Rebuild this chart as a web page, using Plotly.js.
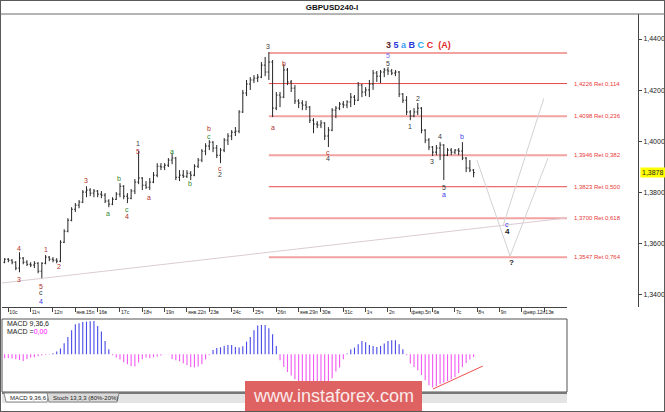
<!DOCTYPE html>
<html><head><meta charset="utf-8">
<script src="https://cdn.plot.ly/plotly-3.0.1.min.js"></script>
<style>html,body{margin:0;padding:0;background:#fff;}#chart{width:665px;height:412px;}</style>
</head><body><div id="chart"></div>
<script>
// ---------- DATA ----------
const dayLabels = ["10с","11ч","12п","янв.15п","16в","17с","18ч","19п","янв.22п","23в","24с","25ч","26п","янв.29п","30в","31с","1ч","2п","февр.5п","6в","7с","8ч","9п","февр.12п","13в"];
const barsPerDay = 6;
const firstDayBar = 1;

const open = [1.3528,1.3540,1.3536,1.3528,1.3505,1.3544,1.3528,1.3520,1.3517,1.3524,
1.3493,1.3524,1.3548,1.3540,1.3536,1.3532,1.3606,1.3649,1.3692,1.3735,
1.3751,1.3763,1.3802,1.3810,1.3798,1.3806,1.3794,1.3790,1.3767,1.3755,
1.3774,1.3794,1.3825,1.3786,1.3778,1.3806,1.3841,1.3857,1.3829,1.3821,
1.3841,1.3868,1.3903,1.3900,1.3907,1.3927,1.3935,1.3860,1.3868,1.3864,
1.3876,1.3868,1.3903,1.3927,1.3962,1.3982,1.3997,1.3974,1.3946,1.3966,
1.4005,1.4021,1.4036,1.4040,1.4115,1.4189,1.4224,1.4240,1.4247,1.4251,
1.4298,1.4271,1.4310,1.4130,1.4181,1.4173,1.4279,1.4232,1.4208,1.4158,
1.4150,1.4142,1.4134,1.4083,1.4068,1.4064,1.4072,1.4021,1.4044,1.4122,
1.4130,1.4146,1.4142,1.4154,1.4173,1.4161,1.4220,1.4193,1.4201,1.4224,
1.4267,1.4255,1.4271,1.4279,1.4275,1.4267,1.4271,1.4185,1.4161,1.4115,
1.4099,1.4115,1.4130,1.4044,1.4005,1.3978,1.3958,1.3974,1.3986,1.3946,
1.3966,1.3958,1.3966,1.3962,1.3935,1.3896,1.3888];
const high = [1.3544,1.3544,1.3540,1.3532,1.3567,1.3548,1.3536,1.3528,1.3532,1.3528,
1.3528,1.3556,1.3552,1.3548,1.3544,1.3614,1.3657,1.3700,1.3743,1.3759,
1.3771,1.3810,1.3825,1.3817,1.3814,1.3810,1.3806,1.3798,1.3774,1.3782,
1.3802,1.3837,1.3829,1.3798,1.3814,1.3853,1.3962,1.3860,1.3845,1.3857,
1.3880,1.3915,1.3915,1.3915,1.3935,1.3954,1.3939,1.3888,1.3888,1.3888,
1.3884,1.3911,1.3935,1.3970,1.3993,1.4005,1.4001,1.3986,1.3974,1.4013,
1.4032,1.4044,1.4056,1.4122,1.4201,1.4240,1.4251,1.4259,1.4263,1.4310,
1.4330,1.4349,1.4318,1.4193,1.4193,1.4302,1.4287,1.4240,1.4220,1.4165,
1.4161,1.4158,1.4138,1.4091,1.4079,1.4083,1.4075,1.4056,1.4130,1.4138,
1.4154,1.4158,1.4161,1.4189,1.4181,1.4232,1.4224,1.4212,1.4240,1.4279,
1.4275,1.4279,1.4287,1.4290,1.4283,1.4279,1.4275,1.4189,1.4177,1.4122,
1.4130,1.4150,1.4134,1.4048,1.4013,1.3982,1.3986,1.3997,1.3989,1.3974,
1.3974,1.3970,1.3974,1.3997,1.3939,1.3927,1.3892];
const low = [1.3524,1.3528,1.3520,1.3497,1.3489,1.3520,1.3513,1.3509,1.3505,1.3485,
1.3462,1.3520,1.3532,1.3528,1.3524,1.3528,1.3603,1.3645,1.3688,1.3724,
1.3739,1.3759,1.3782,1.3786,1.3782,1.3782,1.3778,1.3759,1.3743,1.3751,
1.3771,1.3782,1.3774,1.3759,1.3774,1.3794,1.3833,1.3810,1.3814,1.3810,
1.3837,1.3860,1.3888,1.3888,1.3900,1.3911,1.3849,1.3845,1.3857,1.3857,
1.3849,1.3864,1.3896,1.3919,1.3946,1.3966,1.3958,1.3935,1.3915,1.3958,
1.3986,1.4005,1.4021,1.4032,1.4111,1.4177,1.4201,1.4228,1.4232,1.4247,
1.4255,1.4240,1.4095,1.4122,1.4134,1.4169,1.4220,1.4193,1.4146,1.4130,
1.4122,1.4122,1.4072,1.4032,1.4052,1.4052,1.4005,1.3978,1.4040,1.4091,
1.4122,1.4130,1.4130,1.4134,1.4142,1.4158,1.4173,1.4177,1.4173,1.4201,
1.4232,1.4228,1.4251,1.4259,1.4259,1.4255,1.4173,1.4150,1.4103,1.4083,
1.4095,1.4103,1.4032,1.3993,1.3966,1.3943,1.3946,1.3927,1.3849,1.3943,
1.3946,1.3950,1.3946,1.3927,1.3880,1.3880,1.3860];
const close = [1.3540,1.3536,1.3528,1.3505,1.3544,1.3528,1.3520,1.3517,1.3524,1.3493,
1.3524,1.3548,1.3540,1.3536,1.3532,1.3606,1.3649,1.3692,1.3735,1.3751,
1.3763,1.3802,1.3810,1.3798,1.3806,1.3794,1.3790,1.3767,1.3755,1.3774,
1.3794,1.3825,1.3786,1.3778,1.3806,1.3841,1.3857,1.3829,1.3821,1.3841,
1.3868,1.3903,1.3900,1.3907,1.3927,1.3935,1.3860,1.3868,1.3864,1.3876,
1.3868,1.3903,1.3927,1.3962,1.3982,1.3997,1.3974,1.3946,1.3966,1.4005,
1.4021,1.4036,1.4040,1.4115,1.4189,1.4224,1.4240,1.4247,1.4251,1.4298,
1.4271,1.4310,1.4130,1.4181,1.4173,1.4279,1.4232,1.4208,1.4158,1.4150,
1.4142,1.4134,1.4083,1.4068,1.4064,1.4072,1.4021,1.4044,1.4122,1.4130,
1.4146,1.4142,1.4154,1.4173,1.4161,1.4220,1.4193,1.4201,1.4224,1.4267,
1.4255,1.4271,1.4279,1.4275,1.4267,1.4271,1.4185,1.4161,1.4115,1.4099,
1.4115,1.4130,1.4044,1.4005,1.3978,1.3958,1.3974,1.3986,1.3946,1.3966,
1.3958,1.3966,1.3962,1.3935,1.3896,1.3888,1.3878];

// MACD(9,36,6) histogram, in pips (0.0001)
const macdHist = [-4,-3.7,-4.3,-5,-5.7,-6.7,-4.7,-3.3,-3,-2,
-1.3,-0.7,0.3,1,2.7,5.7,11,17.3,24,30,
31,32.3,32.7,33,33.3,28.3,22.7,13.3,5,-1,
-3.3,-5.3,-8,-10,-11.7,-12.3,-8.3,-5,-3.3,-4,
-3,-2.3,-1.3,-0.3,-0.3,-4.7,-6,-7,-9,-11,
-12.7,-13.3,-12.3,-10,-5.3,-1,4.3,6.3,7,8.3,
9.3,9.3,7.3,6.7,8,12.7,17.3,24,28.7,29.3,
29.3,26,20,8.3,-6,-12.7,-17.7,-21.3,-25,-28.3,
-30.7,-33.3,-35,-36,-36.7,-36,-35,-33.3,-24,-17.3,
-13.3,-5,0.7,4.7,6.7,10,13.3,12,9.3,8.3,
7.3,8.3,10.7,13.3,14,14,10,5,-1,-9.3,
-12.7,-16,-20.7,-26,-31,-33.3,-32,-30,-28.3,-26.7,
-25,-22.7,-19,-12.7,-8.7,-5.3,-2.7];
const macdName = "MACD 9,36,6";
const macdValueText = "0,00";

const fibLevels = [1.4345, 1.4226, 1.4098, 1.3946, 1.3823, 1.3700, 1.3547];
const fibRatios = [null, 0.114, 0.236, 0.382, 0.500, 0.618, 0.764];
const fibFromBar = 71;
const lastPrice = 1.3878;
const priceTicks = [1.34, 1.36, 1.38, 1.40, 1.42, 1.44];

const trendBars = [-0.7, 151.1];
const trendPrices = [1.3447, 1.3701];
const projBarsA = [126.9, 135.8, 146.0];
const projPricesA = [1.3927, 1.3552, 1.3935];
const projBarsB = [133.9, 144.9];
const projPricesB = [1.3669, 1.4169];
const macdTrendBars = [115.1, 128.5];
const macdTrendVals = [-34.7, -11.7];

// wave labels: text, bar, price, degree
const waveText  = ["4","3","1","2","5","c","4","3","a","b","c","4","1","5","a","a","b","c","2","b","c","3","a","b","c","4","5","5","1","2","3","4","5","a","b","c","4","?"];
const waveBar   = [3.9,3.9,11.0,14.6,9.8,9.8,9.8,21.9,27.8,30.7,32.9,32.9,35.8,35.8,38.8,45.0,49.8,57.9,57.9,54.9,54.9,70.8,72.1,75.1,86.9,86.9,103.0,103.0,108.9,111.1,114.8,117.0,118.1,118.1,122.9,135.0,135.0,136.3];
const wavePrice = [1.3583,1.3462,1.3579,1.3513,1.3435,1.3411,1.3376,1.3849,1.3720,1.3857,1.3735,1.3708,1.3993,1.3962,1.3782,1.3962,1.3837,1.3896,1.3872,1.4052,1.4021,1.4369,1.4056,1.4306,1.3958,1.3935,1.4337,1.4306,1.4060,1.4169,1.3923,1.4021,1.3821,1.3794,1.4021,1.3677,1.3649,1.3528];
const waveDeg   = ["r","r","r","r","r","k","b","r","g","g","g","r","k","r","r","g","g","r","k","r","g","k","r","r","r","k","p","k","k","k","k","k","k","b","b","b","K","K"];

const countLegend = [["3","#5a2c2c"],["5","#2a36d8"],["a","#3a9cf6"],["B","#2a36d8"],["C","#27a8ec"],["C","#e02a2a"],[" (A)","#e02a2a"]];
const titleText = "GBPUSD240-I";
const watermark = "www.instaforex.com";
const tabs = ["MACD 9,36,6", "Stoch 13,3,3 (80%-20%)"];

// ---------- LAYOUT HELPERS ----------
const W = 665, H = 412;
const PX = v => v / W, PY = v => 1 - v / H;
const FONT = "Liberation Sans, Arial, sans-serif";
const degColor = {r:"#b0302c", k:"#3a3a3a", g:"#2f8a2f", b:"#3a3af0", p:"#7070f0", K:"#222222"};
const bars = open.map((_, i) => i);
const dayTicks = dayLabels.map((_, i) => firstDayBar + barsPerDay * i);
const fmt = (v, d) => v.toFixed(d).replace('.', ',');

const traces = [
  {type:'ohlc', x:bars, open, high, low, close, xaxis:'x', yaxis:'y',
   increasing:{line:{color:'#262626', width:1}}, decreasing:{line:{color:'#262626', width:1}},
   tickwidth:0.33, hoverinfo:'skip'},
  {type:'scatter', mode:'lines', x:trendBars, y:trendPrices, line:{color:'#dccbd4', width:1}, hoverinfo:'skip'},
  {type:'scatter', mode:'lines', x:projBarsA, y:projPricesA, line:{color:'#d4d0d2', width:1}, hoverinfo:'skip'},
  {type:'scatter', mode:'lines', x:projBarsB, y:projPricesB, line:{color:'#d4d0d2', width:1}, hoverinfo:'skip'},
  {type:'bar', x:bars, y:macdHist, xaxis:'x2', yaxis:'y2', width:0.3,
   marker:{color:macdHist.map(v => v >= 0 ? '#4b4be8' : '#f25af2'), line:{width:0}}, hoverinfo:'skip'},
  {type:'scatter', mode:'lines', x:macdTrendBars, y:macdTrendVals, xaxis:'x2', yaxis:'y2', line:{color:'#f05050', width:1}, hoverinfo:'skip'}
];

const shapes = [];
fibLevels.forEach((lv, i) => {
  const thin = (i === 1 || i === 4);
  shapes.push({type:'line', xref:'x', yref:'y', x0:fibFromBar, x1:151.6, y0:lv, y1:lv,
    line:{color: thin ? '#e84848' : '#f3a2a2', width: thin ? 1 : 2}, layer:'below'});
});
// frames
shapes.push({type:'rect', xref:'paper', yref:'paper', x0:0, x1:1, y0:0, y1:1, line:{color:'#5a5a5a', width:2}});
shapes.push({type:'line', xref:'paper', yref:'paper', x0:0, x1:1, y0:PY(14), y1:PY(14), line:{color:'#6a6a6a', width:1}});
shapes.push({type:'rect', xref:'paper', yref:'paper', x0:PX(2), x1:PX(567), y0:PY(392), y1:PY(319), line:{color:'#555', width:1}});
shapes.push({type:'rect', xref:'paper', yref:'paper', x0:PX(2), x1:PX(567), y0:PY(403), y1:PY(393), fillcolor:'#e4e4e4', line:{width:0}});
shapes.push({type:'line', xref:'paper', yref:'paper', x0:PX(2), x1:PX(567), y0:PY(393), y1:PY(393), line:{color:'#777', width:2}});
const tabPath = (a, b) => `M ${PX(a)} ${PY(393)} L ${PX(a+2)} ${PY(402)} L ${PX(b-2)} ${PY(402)} L ${PX(b)} ${PY(393)} Z`;
shapes.push({type:'path', xref:'paper', yref:'paper', path:tabPath(4, 49), fillcolor:'#ffffff', line:{color:'#888', width:1}});
shapes.push({type:'path', xref:'paper', yref:'paper', path:tabPath(47, 119), fillcolor:'#dadada', line:{color:'#888', width:1}});
shapes.push({type:'rect', xref:'paper', yref:'paper', x0:PX(245), x1:PX(422), y0:PY(411), y1:PY(381), fillcolor:'#de6262', line:{width:0}, layer:'above'});

const annotations = [];
fibLevels.forEach((lv, i) => {
  if (fibRatios[i] === null) return;
  annotations.push({xref:'paper', yref:'y', x:PX(572), y:lv, xanchor:'left', yanchor:'middle', showarrow:false,
    text:`${fmt(lv,4)} Ret ${fmt(fibRatios[i],3)}`, font:{family:FONT, size:6, color:'#e83838'}});
});
waveText.forEach((t, i) => {
  const bold = waveDeg[i] === 'K';
  annotations.push({xref:'x', yref:'y', x:waveBar[i], y:wavePrice[i], showarrow:false, xanchor:'center', yanchor:'middle',
    text: bold ? `<b>${t}</b>` : t, font:{family:FONT, size: bold ? 8 : 7, color:degColor[waveDeg[i]]}});
});
annotations.push({xref:'paper', yref:'paper', x:PX(384), y:PY(45), xanchor:'left', yanchor:'middle', showarrow:false,
  text:'<b>' + countLegend.map(([t,c]) => `<span style="color:${c}">${t}</span>`).join(' ') + '</b>',
  font:{family:FONT, size:9}});
annotations.push({xref:'paper', yref:'y', x:PX(640), y:lastPrice, xanchor:'left', yanchor:'middle', showarrow:false,
  text:fmt(lastPrice,4), bgcolor:'#ffff00', borderpad:1, font:{family:FONT, size:7, color:'#222'}});
annotations.push({xref:'paper', yref:'paper', x:PX(5), y:PY(323), xanchor:'left', yanchor:'middle', showarrow:false,
  text:macdName, font:{family:FONT, size:7, color:'#222'}});
annotations.push({xref:'paper', yref:'paper', x:PX(5), y:PY(331), xanchor:'left', yanchor:'middle', showarrow:false,
  text:`MACD =<span style="color:#ff00ff">${macdValueText}</span>`, font:{family:FONT, size:7, color:'#222'}});
annotations.push({xref:'paper', yref:'paper', x:PX(8), y:PY(398), xanchor:'left', yanchor:'middle', showarrow:false,
  text:tabs[0], font:{family:FONT, size:6, color:'#222'}});
annotations.push({xref:'paper', yref:'paper', x:PX(51), y:PY(398), xanchor:'left', yanchor:'middle', showarrow:false,
  text:tabs[1], font:{family:FONT, size:6, color:'#222'}});
annotations.push({xref:'paper', yref:'paper', x:PX(333.5), y:PY(396), xanchor:'center', yanchor:'middle', showarrow:false,
  text:watermark, font:{family:FONT, size:18, color:'#fbeaea'}});

const layout = {
  width:W, height:H, autosize:false,
  margin:{l:0, r:0, t:0, b:0, pad:0},
  paper_bgcolor:'#ffffff', plot_bgcolor:'#ffffff',
  showlegend:false, hovermode:false, separators:', ',
  font:{family:FONT, size:7, color:'#222'},
  title:{text:`<b>${titleText}</b>`, x:PX(332), xanchor:'center', y:PY(7.5), yanchor:'middle', font:{family:FONT, size:8, color:'#111'}},
  xaxis:{domain:[PX(2), PX(567)], range:[-0.7, 151.1], anchor:'y', showgrid:false, zeroline:false,
    showline:true, linecolor:'#444', linewidth:1, ticks:'outside', ticklen:4, tickcolor:'#444',
    tickvals:dayTicks, ticktext:dayLabels, ticklabelposition:'outside right', tickangle:0,
    tickfont:{family:FONT, size:5.1, color:'#222'}, rangeslider:{visible:false}, fixedrange:true},
  yaxis:{domain:[PY(307), PY(14)], range:[1.33531, 1.44977], anchor:'free', position:PX(638), side:'right',
    showgrid:false, zeroline:false, showline:true, linecolor:'#444', linewidth:1, ticks:'outside', ticklen:3, tickcolor:'#444',
    tickvals:priceTicks, tickformat:'.4f', tickfont:{family:FONT, size:7, color:'#222'}, fixedrange:true},
  xaxis2:{domain:[PX(2), PX(567)], range:[-0.7, 151.1], anchor:'y2', visible:false, fixedrange:true},
  yaxis2:{domain:[PY(392), PY(319)], range:[-37.7, 35.3], anchor:'x2', visible:false, fixedrange:true},
  shapes, annotations
};

Plotly.newPlot('chart', traces, layout, {staticPlot:true, displayModeBar:false});
</script>
</body></html>
